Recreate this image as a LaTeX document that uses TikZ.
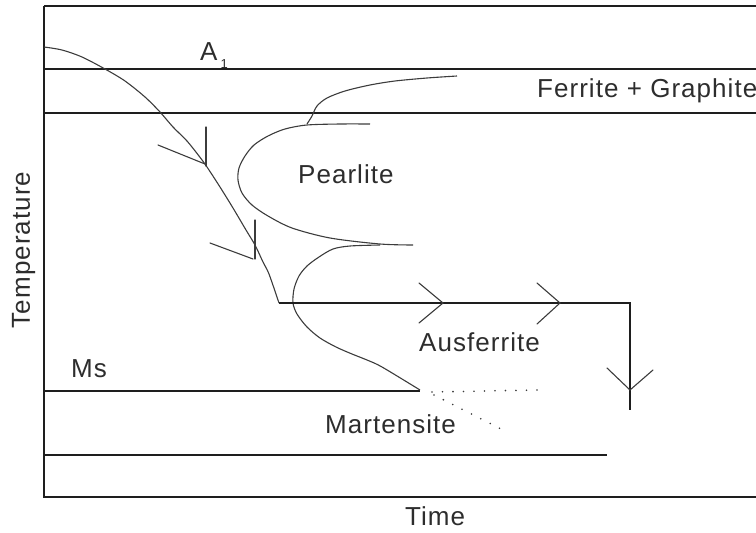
\documentclass[tikz,border=0pt]{standalone}
\usepackage{fontspec}
\setmainfont{Liberation Sans}[LetterSpace=4]
\usepackage{xcolor}
\usepackage{tikz}
\usetikzlibrary{calc}
\definecolor{figline}{RGB}{30,30,30}
\definecolor{figcurve}{RGB}{60,60,60}
\definecolor{figtext}{RGB}{45,45,45}
\tikzset{
  ln/.style   ={draw=figline, line width=1.4pt, line cap=butt},
  crv/.style  ={draw=figcurve, line width=1.1pt, line join=round},
  tick/.style ={draw=figcurve, line width=1.1pt, line cap=round},
  dotln/.style={draw=figcurve, line width=1.8pt, line cap=round, dash pattern=on 0pt off 10.5pt},
  lab/.style  ={font=\fontsize{26}{30}\selectfont, text=figtext, inner sep=0pt},
}
\begin{document}
\begin{tikzpicture}[x=1pt,y=-1pt]
  \useasboundingbox (0,0) rectangle (756,533);
  % frame and isotherms
  \draw[ln] (44,6) -- (756,6);
  \draw[ln] (44,6) -- (44,497) -- (756,497);
  \draw[ln] (44,69) -- (756,69);
  \draw[ln] (44,113) -- (756,113);
  \draw[ln] (44,391) -- (420,391);
  \draw[ln] (44,455) -- (607,455);
  % transformation curves
  \draw[crv] plot[smooth,tension=0.5] coordinates {(457,76) (427,78) (395,81) (370,85) (345,91) (327,98) (317,106) (312,116) (307,124)};
  \draw[crv] plot[smooth,tension=0.5] coordinates {(370,124) (340,124) (307,125) (285,129) (268,136) (254,145) (245,156) (239,168) (238,180) (242,193) (252,205) (268,216) (292,228) (330,238) (380,244) (413,245)};
  \draw[crv] plot[smooth,tension=0.5] coordinates {(380,245) (350,246) (333,249) (319,257) (307,266) (299,276) (294,289) (293,303) (297,314) (307,327) (320,338) (336,347) (352,354) (367,360) (382,367) (420,390)};
  \draw[dotln] (432,392) -- (537,390);
  \draw[dotln] (434,395) -- (503,430);
  % cooling path
  \coordinate (hold) at (279,303);
  \coordinate (turn) at (630,303);
  \coordinate (qend) at (630,410);
  \draw[crv] plot[smooth,tension=0.5] coordinates {(44,47) (62,50) (82,57) (105,69) (125,81) (145,97) (160,112) (173,127) (187,141) (199,156) (207,167) (220,187) (233,208) (246,230) (255,245) (263,262) (269,274) (279,303)};
  \draw[ln,line width=1.2pt] (hold) -- (turn) -- (qend);
  % arrow marks
  \draw[tick] (206,127) -- (206,166);
  \draw[tick] (158,145) -- (205,164);
  \draw[tick] (255,220) -- (255,259);
  \draw[tick] (210,243) -- (253,259);
  \draw[tick] (419,283) -- (443,303) -- (419,323);
  \draw[tick] (537,283) -- (560,303) -- (537,324);
  \draw[tick] (607,368) -- (630,390) -- (653,370);
  % labels
  \node[lab,anchor=base west] (aone) at (200,60) {A\hspace{3pt}\raisebox{-8pt}{\fontsize{13}{13}\selectfont 1}};
  \node[lab,anchor=base west] (fergr) at (537,97) {Ferrite + Graphite};
  \node[lab,anchor=base west] (pearl) at (298,183) {Pearlite};
  \node[lab,anchor=base west] (ausf) at (419,351) {Ausferrite};
  \node[lab,anchor=base west] (ms) at (71,377) {Ms};
  \node[lab,anchor=base west] (mart) at (325,433) {Martensite};
  \node[lab,anchor=base west] (time) at (405,525) {Time};
  \node[lab,rotate=90,anchor=base] (temp) at (30,250) {Temperature};
\end{tikzpicture}
\end{document}
